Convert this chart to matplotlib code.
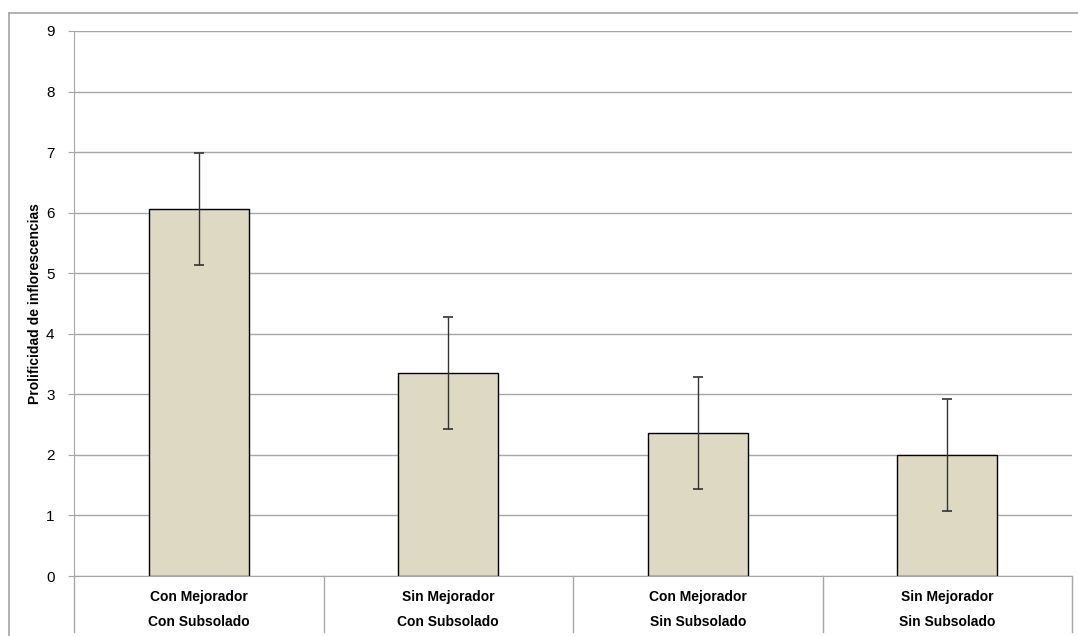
import matplotlib
matplotlib.use("Agg")
import matplotlib.pyplot as plt
from matplotlib.lines import Line2D

categories = ["Con Mejorador\nCon Subsolado", "Sin Mejorador\nCon Subsolado",
              "Con Mejorador\nSin Subsolado", "Sin Mejorador\nSin Subsolado"]
values = [6.06, 3.35, 2.36, 2.0]
errors = [0.92, 0.92, 0.92, 0.92]
yticks = list(range(0, 10))
ylabel = "Prolificidad de inflorescencias"

plt.rcParams['font.family'] = ['Liberation Sans', 'DejaVu Sans']

W, H = 1078, 636
fig = plt.figure(figsize=(W / 100, H / 100), dpi=100)
x0, x1, ytop, ybot = 74, 1072, 31, 576
ax = fig.add_axes([x0 / W, 1 - ybot / H, (x1 - x0) / W, (ybot - ytop) / H])

n = len(categories)
xs = [i + 0.5 for i in range(n)]
grid_c = "#a6a6a6"
ax.bar(xs, values, width=0.4, color="#ddd9c3", edgecolor="black", linewidth=1.0, zorder=3)
ax.errorbar(xs, values, yerr=errors, fmt="none", ecolor="#333333", elinewidth=1.0,
            capsize=3.5, capthick=1.2, zorder=4)

ax.set_xlim(0, n)
ax.set_ylim(0, 9)
ax.set_yticks(yticks)
ax.set_yticklabels([str(t) for t in yticks], fontsize=11)
ax.set_xticks([])
ax.yaxis.grid(True, color=grid_c, linewidth=1.0, zorder=0)
ax.set_axisbelow(True)
for s in ["top", "right"]:
    ax.spines[s].set_visible(False)
ax.spines["left"].set_color(grid_c)
ax.spines["bottom"].set_color(grid_c)
ax.tick_params(axis="y", length=4, color=grid_c, pad=10)
ax.set_ylabel(ylabel, fontsize=10, fontweight="bold", labelpad=3)

# category labels and separators below axis
for i in range(n + 1):
    ax.add_line(Line2D([i, i], [0, -0.93], color=grid_c, linewidth=1.0,
                       clip_on=False, transform=ax.transData))
for i, lab in enumerate(categories):
    l1, l2 = lab.split("\n")
    ax.text(xs[i], -0.35, l1, ha="center", va="center", fontsize=10, fontweight="bold")
    ax.text(xs[i], -0.76, l2, ha="center", va="center", fontsize=10, fontweight="bold")

# outer frame
fig.add_artist(Line2D([9 / W, 9 / W], [0, 1 - 13 / H], color=grid_c, linewidth=1.2,
                      transform=fig.transFigure))
fig.add_artist(Line2D([9 / W, 1], [1 - 13 / H, 1 - 13 / H], color=grid_c, linewidth=1.2,
                      transform=fig.transFigure))

fig.savefig("out.png", dpi=100)
